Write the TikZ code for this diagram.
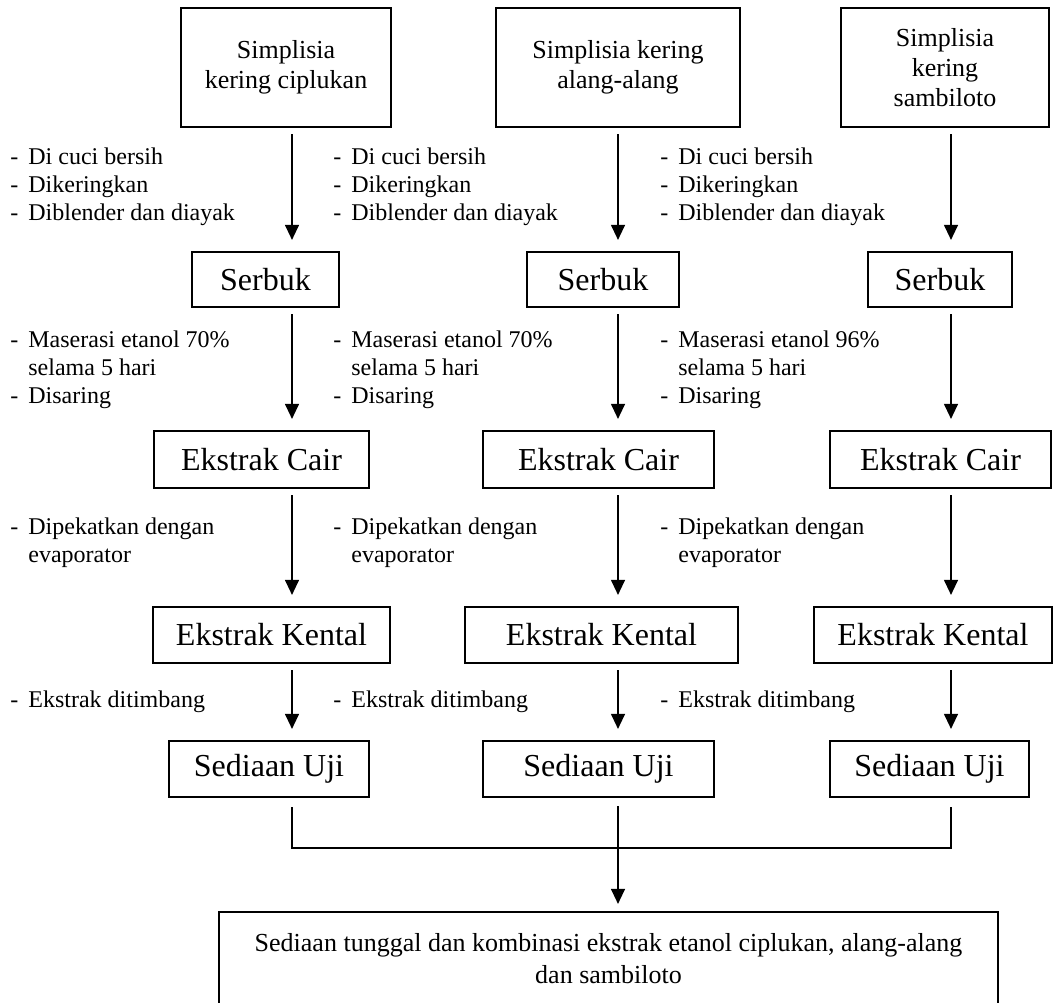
\documentclass[tikz,border=0pt]{standalone}
\usepackage{fontspec}
\setmainfont{Liberation Serif}
\usetikzlibrary{arrows.meta,calc}
\tikzset{
  >={Triangle[length=7.5pt,width=7pt]},
  box/.style={draw,line width=1.1pt,inner sep=0pt,align=center,
    font=\fontsize{16}{19}\selectfont},
  head/.style={draw,line width=1.1pt,inner sep=0pt,align=center,
    font=\fontsize{13}{15}\selectfont},
  note/.style={anchor=base west,inner sep=0pt,font=\fontsize{12}{14.2}\selectfont},
  flow/.style={->,line width=0.6pt,shorten <=3pt,shorten >=5.5pt},
  link/.style={line width=0.6pt},
}
\newcommand{\steplist}[1]{\begin{tabular}[t]{@{}l@{\hspace{5pt}}l@{}}#1\end{tabular}}

\begin{document}
\begin{tikzpicture}[x=0.5pt,y=-0.5pt]
  \useasboundingbox (0,0) rectangle (1055,1002);
  \coordinate (c1) at (292,0);
  \coordinate (c2) at (618,0);
  \coordinate (c3) at (951,0);
  % raw material
  \node[head,minimum width=105pt,minimum height=59.5pt] (top1) at (286,67.5) {Simplisia\\kering ciplukan};
  \node[head,minimum width=122pt,minimum height=59.5pt] (top2) at (618,67.5) {Simplisia kering\\alang-alang};
  \node[head,minimum width=104pt,minimum height=59.5pt] (top3) at (945,67.5) {Simplisia\\kering\\sambiloto};
  % process boxes
  \node[box,minimum width=73.5pt,minimum height=27.5pt] (serbuk1) at (265.5,279.5) {Serbuk};
  \node[box,minimum width=76pt,minimum height=27.5pt] (serbuk2) at (603,279.5) {Serbuk};
  \node[box,minimum width=72pt,minimum height=27.5pt] (serbuk3) at (940,279.5) {Serbuk};
  \node[box,minimum width=107.5pt,minimum height=28.5pt] (cair1) at (261.5,459.5) {Ekstrak Cair};
  \node[box,minimum width=115.5pt,minimum height=28.5pt] (cair2) at (598.5,459.5) {Ekstrak Cair};
  \node[box,minimum width=110.5pt,minimum height=28.5pt] (cair3) at (940.5,459.5) {Ekstrak Cair};
  \node[box,minimum width=118.5pt,minimum height=28pt] (kental1) at (271.5,635) {Ekstrak Kental};
  \node[box,minimum width=136.5pt,minimum height=28pt] (kental2) at (601.5,635) {Ekstrak Kental};
  \node[box,minimum width=119pt,minimum height=28pt] (kental3) at (933,635) {Ekstrak Kental};
  \node[box,minimum width=100pt,minimum height=28pt] (uji1) at (269,769) {Sediaan Uji};
  \node[box,minimum width=115.5pt,minimum height=28pt] (uji2) at (598.5,769) {Sediaan Uji};
  \node[box,minimum width=99.5pt,minimum height=28pt] (uji3) at (929.5,769) {Sediaan Uji};
  \node[head,minimum width=389.5pt,minimum height=47pt,font=\fontsize{13}{16}\selectfont] (final) at (608.5,959)
    {Sediaan tunggal dan kombinasi ekstrak etanol ciplukan, alang-alang\\dan sambiloto};
  % step notes
  \foreach \x/\n in {10/a,333/b,660/c}
    \node[note] (wash\n) at (\x,164) {\steplist{-&Di cuci bersih\\-&Dikeringkan\\-&Diblender dan diayak}};
  \foreach \x/\n/\p in {10/a/70,333/b/70,660/c/96}
    \node[note] (maser\n) at (\x,347) {\steplist{-&Maserasi etanol \p\%\\&selama 5 hari\\-&Disaring}};
  \foreach \x/\n in {10/a,333/b,660/c}
    \node[note] (evap\n) at (\x,534) {\steplist{-&Dipekatkan dengan\\&evaporator}};
  \foreach \x/\n in {10/a,333/b,660/c}
    \node[note] (weigh\n) at (\x,707) {\steplist{-&Ekstrak ditimbang}};
  % arrows
  \foreach \i in {1,2,3} {
    \draw[flow] (top\i.south -| c\i) -- (serbuk\i.north -| c\i);
    \draw[flow] (serbuk\i.south -| c\i) -- (cair\i.north -| c\i);
    \draw[flow] (cair\i.south -| c\i) -- (kental\i.north -| c\i);
    \draw[flow] (kental\i.south -| c\i) -- (uji\i.north -| c\i);
  }
  \coordinate (join) at (618,848);
  \draw[link,shorten <=4.5pt,shorten >=4.5pt] (uji1.south -| c1) -- (join -| c1) -- (join -| c3) -- (uji3.south -| c3);
  \draw[flow,shorten <=4pt,shorten >=3.5pt] (uji2.south -| c2) -- (final.north -| c2);
\end{tikzpicture}
\end{document}
